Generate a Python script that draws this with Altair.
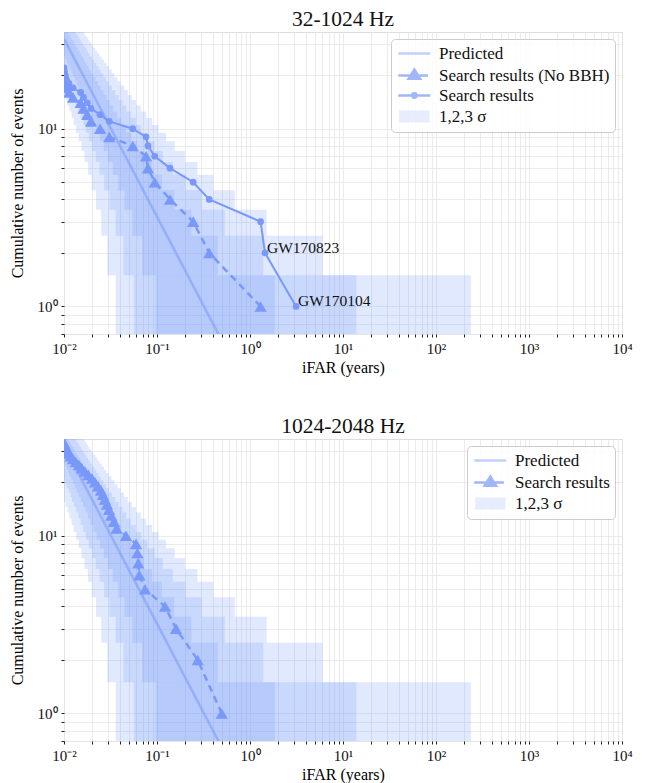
import altair as alt
import pandas as pd

# ---------------- data ----------------
band_n = list(range(1, 37))

# 1-sigma band: left / right iFAR edge for each count
s1_lo = [0.097, 0.0691, 0.0542, 0.0447, 0.0382, 0.0334, 0.0297, 0.0268, 0.0244, 0.0224,
         0.0208, 0.0193, 0.0181, 0.0170, 0.0160, 0.0152, 0.0144, 0.0137, 0.0131, 0.0125,
         0.0120, 0.0115, 0.0111, 0.0107, 0.0103, 0.00995, 0.0096, 0.0093, 0.0090, 0.0087,
         0.0084, 0.0082, 0.0079, 0.0077, 0.0075, 0.0073]
s1_hi = [1.85, 0.452, 0.234, 0.153, 0.113, 0.0883, 0.0723, 0.0611, 0.0528, 0.0464,
         0.0413, 0.0373, 0.0339, 0.0310, 0.0286, 0.0266, 0.0248, 0.0232, 0.0218, 0.0206,
         0.0194, 0.0184, 0.0175, 0.0167, 0.0160, 0.0153, 0.0147, 0.0141, 0.0135, 0.0130,
         0.0126, 0.0121, 0.0117, 0.0113, 0.0110, 0.0107]
# 2-sigma band
s2_lo = [0.0563, 0.0436, 0.0360, 0.0308, 0.0271, 0.0242, 0.0219, 0.0201, 0.0185, 0.0172,
         0.0161, 0.0151, 0.0143, 0.0135, 0.0128, 0.0122, 0.0117, 0.0112, 0.0107, 0.0103,
         0.0099, 0.0095, 0.0091, 0.0088, 0.0085, 0.0082, 0.0080, 0.0077, 0.0075, 0.0073,
         0.0071, 0.0069, 0.0067, 0.0065, 0.0064, 0.0062]
s2_hi = [13.9, 1.39, 0.536, 0.302, 0.2025, 0.148, 0.1155, 0.0941, 0.0789, 0.0677,
         0.0591, 0.0523, 0.0469, 0.0424, 0.0386, 0.0354, 0.0327, 0.0303, 0.0283, 0.0265,
         0.0249, 0.0234, 0.0222, 0.0210, 0.0200, 0.0190, 0.0181, 0.0174, 0.0166, 0.0159,
         0.0153, 0.0147, 0.0142, 0.0137, 0.0132, 0.0128]
# 3-sigma band
s3_lo = [0.036, 0.0292, 0.0251, 0.0221, 0.0199, 0.0181, 0.0166, 0.0154, 0.0144, 0.0135,
         0.0127, 0.0121, 0.0114, 0.0109, 0.0104, 0.00997, 0.0096, 0.0092, 0.0089, 0.0086,
         0.0083, 0.0080, 0.0077, 0.0075, 0.0073, 0.0071, 0.0069, 0.0067, 0.0065, 0.0063,
         0.0061, 0.0060, 0.0058, 0.0057, 0.0055, 0.0054]
s3_hi = [237.0, 6.04, 1.51, 0.687, 0.404, 0.272, 0.200, 0.155, 0.125, 0.104,
         0.0884, 0.0764, 0.0671, 0.0596, 0.0535, 0.0485, 0.0443, 0.0406, 0.0375, 0.0348,
         0.0325, 0.0304, 0.0285, 0.0269, 0.0254, 0.0240, 0.0228, 0.0217, 0.0207, 0.0198,
         0.0189, 0.0181, 0.0174, 0.0167, 0.0161, 0.0155]

# predicted (straight line in log-log)
pred_x = [0.01, 0.5]
pred_n = [32.0, 0.64]

# 32-1024 Hz: all search results
top_all_x = [3.13, 1.45, 1.30, 0.365, 0.245, 0.138, 0.0945, 0.080, 0.0762, 0.0548,
             0.0307, 0.0244, 0.0195, 0.0178, 0.0162, 0.0151, 0.0125, 0.0113, 0.0106,
             0.0103, 0.0101, 0.0100]
top_all_n = list(range(1, 23))
# 32-1024 Hz: search results without BBH
top_nobbh_x = [1.30, 0.365, 0.245, 0.138, 0.0945, 0.080, 0.0762, 0.0548, 0.0307, 0.0244,
               0.0195, 0.0178, 0.0162, 0.0151, 0.0125, 0.0113, 0.0106, 0.0103, 0.0101, 0.0100]
top_nobbh_n = list(range(1, 21))
# 1024-2048 Hz search results
bot_x = [0.497, 0.274, 0.160, 0.122, 0.0744, 0.0646, 0.063, 0.0616, 0.0595, 0.0464,
         0.0368, 0.0345, 0.0322, 0.0305, 0.0290, 0.0275, 0.0262, 0.0250, 0.0232, 0.0215,
         0.0200, 0.0183, 0.0168, 0.0155, 0.0145, 0.0134, 0.0125, 0.0118, 0.0113, 0.0110,
         0.0106, 0.0103, 0.0101]
bot_n = list(range(1, 34))

ann_labels = ["GW170823", "GW170104"]
ann_x = [1.45, 3.13]
ann_n = [2, 1]

x_ticks = [m * 10.0 ** e for e in range(-2, 4) for m in range(1, 10)] + [1e4]
y_ticks = [0.7, 0.8, 0.9, 1, 2, 3, 4, 5, 6, 7, 8, 9, 10, 20, 30]

# ---------------- styling ----------------
BASE = "#7899f9"
PRED = "#a9bcfa"
BANDC = "#dfe6fd"
FONT = "Liberation Serif"

bands = []
for lo, hi in [(s3_lo, s3_hi), (s2_lo, s2_hi), (s1_lo, s1_hi)]:
    for n, a, b in zip(band_n, lo, hi):
        bands.append({"x_lo": a, "x_hi": b, "n_lo": n - 0.5, "n_hi": n + 0.5})
band_df = pd.DataFrame(bands)
pred_df = pd.DataFrame({"x": pred_x, "n": pred_n})
ann_df = pd.DataFrame({"x": ann_x, "n": ann_n, "label": ann_labels})

MAJOR = "abs(log(datum.value)/LN10 - round(log(datum.value)/LN10)) < 0.01"
LBL = ("(" + MAJOR + ") ? '10' + ['\u207b\u00b2','\u207b\u00b9','\u2070','\u00b9','\u00b2','\u00b3','\u2074']"
       "[round(log(datum.value)/LN10) + 2] : ''")

XSCALE = alt.Scale(type="log", domain=[0.01, 10000])
YSCALE = alt.Scale(type="log", domain=[0.7, 35])

XAXIS = alt.Axis(values=x_ticks, labelExpr=LBL, tickSize=3, labelPadding=4,
                 labelFlush=False, labelOverlap=False, domain=False,
                 gridColor="#e6e6e6", gridWidth=0.8, tickColor="#222222", tickWidth=1,
                 labelFont=FONT, labelFontSize=15, titleFont=FONT, titleFontSize=16,
                 titleFontWeight="normal", titlePadding=3, labelColor="#111111")
YAXIS = alt.Axis(values=y_ticks, labelExpr=LBL, tickSize=3, labelPadding=4,
                 labelOverlap=False, domain=False, gridColor="#e6e6e6", gridWidth=0.8,
                 tickColor="#222222", tickWidth=1, labelFont=FONT, labelFontSize=15,
                 titleFont=FONT, titleFontSize=16, titleFontWeight="normal",
                 titlePadding=12, labelColor="#111111")


def X(field):
    return alt.X(field, type="quantitative", scale=XSCALE, axis=XAXIS, title="iFAR (years)")


def Y(field):
    return alt.Y(field, type="quantitative", scale=YSCALE, axis=YAXIS,
                 title="Cumulative number of events")


# legend symbol paths (unit = sqrt(symbolSize)/2 px)
CX = 1.1
LINE_P = "M-0.9,0L3.1,0"


def tri(scale):
    cy = 0.017
    ax, ay = CX, cy + scale * (-0.75 - cy)
    by = cy + scale * (0.4 - cy)
    hw = 0.72 * scale
    return f"M{ax:.3f},{ay:.3f}L{CX + hw:.3f},{by:.3f}L{CX - hw:.3f},{by:.3f}Z"


DASH_TRI_P = "M-0.9,0L0.5,0M1.7,0L2.8,0" + tri(1.0) + tri(0.62) + tri(0.28)


def circ(r):
    return f"M{CX + r:.3f},0A{r},{r} 0 1,1 {CX - r:.3f},0A{r},{r} 0 1,1 {CX + r:.3f},0"


LINE_CIRC_P = LINE_P + circ(0.28) + circ(0.08)
RECT_P = "".join(f"M-0.8,{y}L3.0,{y}" for y in [-0.6, -0.36, -0.12, 0.12, 0.36, 0.6])


def legend_layer(entries, shapes, colors):
    leg = alt.Legend(orient="top-right", offset=7, title=None, labelFont=FONT,
                     labelFontSize=17, labelColor="#111111", labelLimit=400,
                     symbolSize=256, symbolStrokeWidth=2.5,
                     fillColor="rgba(255,255,255,0.85)", strokeColor="#cccccc",
                     cornerRadius=4, padding=5, rowPadding=2, labelOffset=24)
    df = pd.DataFrame({"entry": entries})
    return alt.Chart(df).mark_point(filled=False, strokeWidth=2.5).encode(
        color=alt.Color("entry:N", scale=alt.Scale(domain=entries, range=colors), legend=leg),
        shape=alt.Shape("entry:N", scale=alt.Scale(domain=entries, range=shapes), legend=leg),
    ).transform_filter("false")


def panel(title, series, legend_entries, legend_shapes, legend_colors, with_ann):
    layers = []
    layers.append(alt.Chart(band_df).mark_rect(clip=True, color=BASE, opacity=0.22,
                                               strokeWidth=0).encode(
        x=X("x_lo"), x2="x_hi", y=Y("n_lo"), y2="n_hi"))
    layers.append(alt.Chart(pred_df).mark_line(clip=True, color=BASE, opacity=0.55,
                                               strokeWidth=2.5).encode(
        x=X("x"), y=Y("n")))
    for xs, ns, kind in series:
        df = pd.DataFrame({"x": xs, "n": ns})
        if kind == "tri":
            layers.append(alt.Chart(df).mark_line(clip=True, color=BASE, strokeWidth=2.5,
                                                  strokeDash=[7, 5]).encode(
                x=X("x"), y=Y("n"), order="n:Q"))
            layers.append(alt.Chart(df).mark_point(clip=True, color=BASE, filled=True,
                                                   opacity=1, shape="triangle-up",
                                                   size=150).encode(x=X("x"), y=Y("n")))
        else:
            layers.append(alt.Chart(df).mark_line(clip=True, color=BASE,
                                                  strokeWidth=2).encode(
                x=X("x"), y=Y("n"), order="n:Q"))
            layers.append(alt.Chart(df).mark_point(clip=True, color=BASE, filled=True,
                                                   opacity=1, shape="circle",
                                                   size=45).encode(x=X("x"), y=Y("n")))
    if with_ann:
        layers.append(alt.Chart(ann_df).mark_text(align="left", baseline="middle", dx=2,
                                                  dy=-5, font=FONT, fontSize=15.5,
                                                  color="#111111").encode(
            x=X("x"), y=Y("n"), text="label:N"))
    layers.append(legend_layer(legend_entries, legend_shapes, legend_colors))
    return alt.layer(*layers).properties(
        width=558, height=302,
        title=alt.TitleParams(title, font=FONT, fontSize=21.5, fontWeight="normal",
                              anchor="middle", offset=2, color="#111111"))


top = panel("32-1024 Hz",
            [(top_nobbh_x, top_nobbh_n, "tri"), (top_all_x, top_all_n, "circ")],
            ["Predicted", "Search results (No BBH)", "Search results", "1,2,3 \u03c3"],
            [LINE_P, DASH_TRI_P, LINE_CIRC_P, RECT_P],
            [PRED, BASE, BASE, BANDC], True)
bottom = panel("1024-2048 Hz",
               [(bot_x, bot_n, "tri")],
               ["Predicted", "Search results", "1,2,3 \u03c3"],
               [LINE_P, DASH_TRI_P, RECT_P],
               [PRED, BASE, BANDC], False)

chart = alt.vconcat(top, bottom, spacing=39, padding=0).resolve_scale(
    color="independent", shape="independent"
).configure_view(stroke="#b3b3b3", strokeWidth=1.6).configure(background="white")

chart.save("out.html", embed_options={"renderer": "svg", "actions": False})
